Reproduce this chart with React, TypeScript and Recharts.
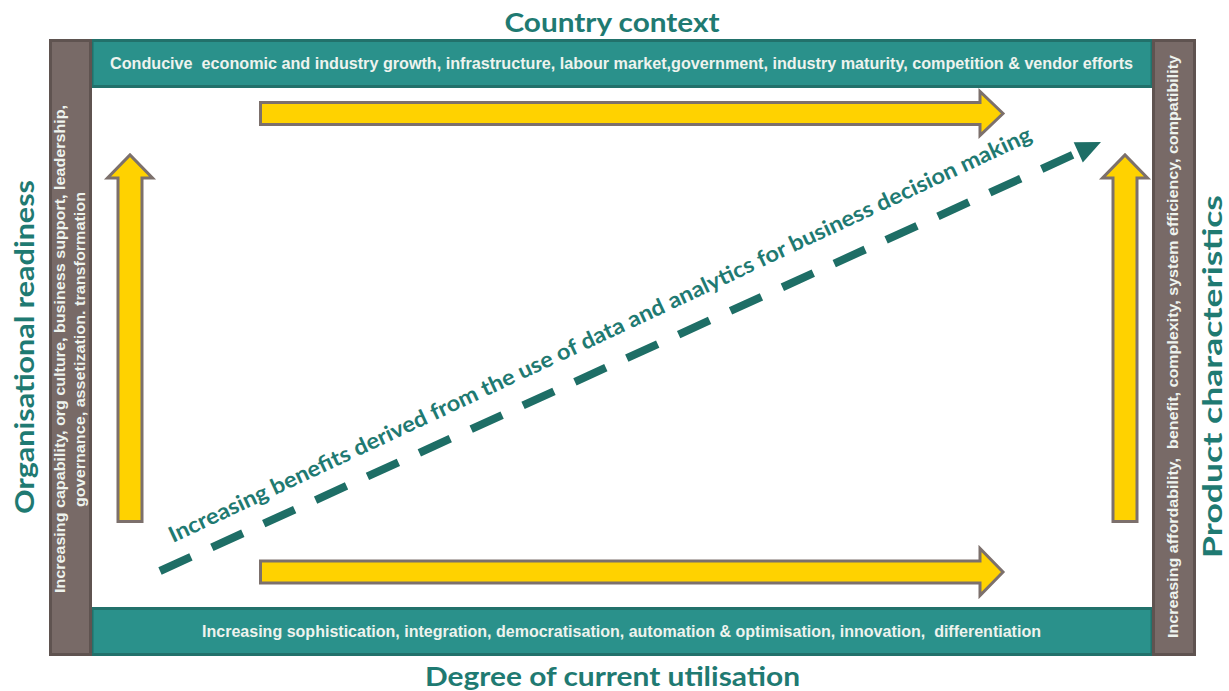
import { ComposedChart, XAxis, YAxis, ReferenceArea, ReferenceDot, Line } from 'recharts';

const W = 1229;
const H = 691;

const TEAL = '#2A918B';
const TEAL_DARK = '#22716B';
const INK = '#1F7A72';
const DASH = '#1E6E66';
const GREY = '#786A67';
const GREY_DARK = '#5F5350';
const YELLOW = '#FFD200';
const OUTLINE = '#7C706C';
const LIGHT = '#EEF3EE';
const NARROW = "'Liberation Sans Narrow', 'Arial Narrow', 'Liberation Sans', Arial, sans-serif";
const HEAD = "Lato, 'Open Sans', sans-serif";

// text content
const titles = ['Country context', 'Degree of current utilisation', 'Organisational readiness', 'Product characteristics'];
const contextText =
  'Conducive  economic and industry growth, infrastructure, labour market,government, industry maturity, competition & vendor efforts';
const utilisationText =
  'Increasing sophistication, integration, democratisation, automation & optimisation, innovation,  differentiation';
const readinessLines = [
  'Increasing capability, org culture, business support, leadership,',
  'governance, assetization. transformation',
];
const productLines = ['Increasing affordability,  benefit, complexity, system efficiency, compatibility'];
const benefitLabel = 'Increasing benefits derived from the use of data and analytics for business decision making';

// dashed "benefits" trend, start -> end
const trendX = [160, 1079];
const trendY = [571, 152];
const trend = trendX.map((x, i) => ({ x, y: trendY[i] }));

type Spec = {
  text: string;
  x: number;
  y: number;
  size: number;
  len: number;
  color: string;
  font: string;
  angle?: number;
  anchor?: 'start' | 'middle' | 'end';
};

const textShape = (s: Spec) => (p: any) => (
  <text
    x={p.cx}
    y={p.cy}
    transform={s.angle ? `rotate(${s.angle} ${p.cx} ${p.cy})` : undefined}
    fontSize={s.size}
    fontFamily={s.font}
    fontWeight={700}
    fill={s.color}
    textAnchor={s.anchor ?? 'middle'}
    textLength={s.len}
    lengthAdjust="spacingAndGlyphs"
    style={{ whiteSpace: 'pre' }}
  >
    {s.text}
  </text>
);

const arrowShape = (dir: 'right' | 'up', shaft: number, head: number) => (p: any) => {
  const { x, y, width: w, height: h } = p;
  let pts: number[][];
  if (dir === 'right') {
    const cy = y + h / 2;
    const hx = x + w - head;
    pts = [
      [x, cy - shaft / 2], [hx, cy - shaft / 2], [hx, y], [x + w, cy],
      [hx, y + h], [hx, cy + shaft / 2], [x, cy + shaft / 2],
    ];
  } else {
    const cx = x + w / 2;
    const hy = y + head;
    pts = [
      [cx - shaft / 2, y + h], [cx - shaft / 2, hy], [x, hy], [cx, y],
      [x + w, hy], [cx + shaft / 2, hy], [cx + shaft / 2, y + h],
    ];
  }
  return (
    <polygon
      points={pts.map((q) => q.join(',')).join(' ')}
      fill={YELLOW}
      stroke={OUTLINE}
      strokeWidth={3}
      strokeLinejoin="miter"
    />
  );
};

// triangle tip of the dashed trend
const tipShape = (p: any) => {
  const ux = trendX[1] - trendX[0];
  const uy = trendY[1] - trendY[0];
  const l = Math.hypot(ux, uy);
  const dx = ux / l, dy = uy / l;
  const bx = p.cx - dx * 25, by = p.cy - dy * 25;
  const nx = -dy * 11, ny = dx * 11;
  return <polygon points={`${p.cx},${p.cy} ${bx + nx},${by + ny} ${bx - nx},${by - ny}`} fill={DASH} />;
};

const texts: Spec[] = [
  { text: titles[0], x: 612, y: 32, size: 27, len: 215, color: INK, font: HEAD },
  { text: titles[1], x: 612.5, y: 686, size: 27, len: 375, color: INK, font: HEAD },
  { text: titles[2], x: 34, y: 347, size: 27, len: 334, color: INK, font: HEAD, angle: -90 },
  { text: titles[3], x: 1222, y: 376.5, size: 27, len: 363, color: INK, font: HEAD, angle: -90 },
  { text: contextText, x: 621.5, y: 69, size: 16, len: 1023, color: LIGHT, font: NARROW },
  { text: utilisationText, x: 621.5, y: 637, size: 16, len: 839, color: LIGHT, font: NARROW },
  { text: readinessLines[0], x: 65, y: 349, size: 15, len: 488, color: LIGHT, font: NARROW, angle: -90 },
  { text: readinessLines[1], x: 85, y: 349.5, size: 15, len: 315, color: LIGHT, font: NARROW, angle: -90 },
  { text: productLines[0], x: 1178, y: 346.5, size: 15, len: 583, color: LIGHT, font: NARROW, angle: -90 },
  { text: benefitLabel, x: 173, y: 543, size: 22, len: 950, color: INK, font: HEAD, angle: -25.1, anchor: 'start' },
];

export default function App() {
  return (
    <div style={{ position: 'absolute', left: 0, top: 0, width: W, height: H, background: '#fff' }}>
      <ComposedChart width={W} height={H} data={trend} margin={{ top: 0, right: 0, bottom: 0, left: 0 }}>
        <XAxis type="number" dataKey="x" domain={[0, W]} hide />
        <YAxis type="number" domain={[0, H]} reversed hide width={0} />

        {/* teal context / utilisation bands */}
        <ReferenceArea x1={92} x2={1152} y1={40.5} y2={86.5} fill={TEAL} fillOpacity={1} stroke={TEAL_DARK} strokeWidth={3} />
        <ReferenceArea x1={92} x2={1152} y1={608.5} y2={654.5} fill={TEAL} fillOpacity={1} stroke={TEAL_DARK} strokeWidth={3} />

        {/* grey side bands */}
        <ReferenceArea x1={50.5} x2={90.5} y1={40.5} y2={654.5} fill={GREY} fillOpacity={1} stroke={GREY_DARK} strokeWidth={3} />
        <ReferenceArea x1={1153.5} x2={1194.5} y1={40.5} y2={654.5} fill={GREY} fillOpacity={1} stroke={GREY_DARK} strokeWidth={3} />

        {/* yellow arrows */}
        <ReferenceArea x1={260.5} x2={1003} y1={91.5} y2={135.5} shape={arrowShape('right', 22, 23)} />
        <ReferenceArea x1={260.5} x2={1003} y1={548.5} y2={595.5} shape={arrowShape('right', 22, 23)} />
        <ReferenceArea x1={107.5} x2={152.5} y1={155} y2={521.5} shape={arrowShape('up', 24, 23)} />
        <ReferenceArea x1={1102.5} x2={1147.5} y1={155} y2={521.5} shape={arrowShape('up', 24, 23)} />

        <Line
          dataKey="y"
          type="linear"
          stroke={DASH}
          strokeWidth={8}
          strokeDasharray="34 23"
          dot={false}
          activeDot={false}
          isAnimationActive={false}
        />
        <ReferenceDot x={1101} y={142} shape={tipShape} />

        {texts.map((s, i) => (
          <ReferenceDot key={i} x={s.x} y={s.y} shape={textShape(s)} />
        ))}
      </ComposedChart>
    </div>
  );
}
